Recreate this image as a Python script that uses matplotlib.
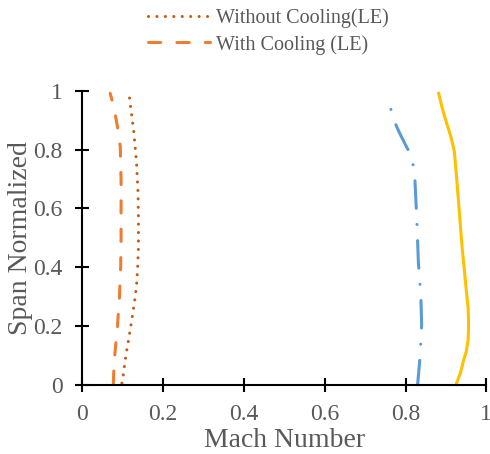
import matplotlib
matplotlib.use("Agg")
import matplotlib.pyplot as plt

plt.rcParams['font.family'] = ['Liberation Serif', 'DejaVu Serif']

# leading edge, without cooling (dotted)
span_le_nocool = [0.005, 0.03, 0.061, 0.10, 0.141, 0.19, 0.243, 0.29, 0.333, 0.40,
                  0.469, 0.56, 0.651, 0.76, 0.866, 0.93, 0.985]
mach_le_nocool = [0.098, 0.101, 0.104, 0.108, 0.113, 0.119, 0.125, 0.130, 0.134, 0.137,
                  0.139, 0.139, 0.138, 0.134, 0.127, 0.121, 0.116]

# leading edge, with cooling (dashed)
span_le_cool = [0.005, 0.05, 0.095, 0.14, 0.175, 0.24, 0.30, 0.401, 0.50, 0.583,
                0.696, 0.81, 0.87, 0.923, 0.96, 0.991]
mach_le_cool = [0.077, 0.078, 0.080, 0.083, 0.086, 0.089, 0.092, 0.095, 0.096, 0.096,
                0.096, 0.094, 0.088, 0.081, 0.075, 0.069]

# blue dash-dot series
span_blue = [0.0, 0.095, 0.152, 0.203, 0.30, 0.413, 0.56, 0.707, 0.764, 0.79, 0.813,
             0.86, 0.90, 0.93, 0.954]
mach_blue = [0.830, 0.836, 0.838, 0.840, 0.838, 0.832, 0.828, 0.823, 0.817, 0.810, 0.801,
             0.784, 0.771, 0.765, 0.761]

# yellow solid series
span_yellow = [0.0, 0.04, 0.084, 0.11, 0.152, 0.19, 0.22, 0.26, 0.30, 0.469, 0.696,
               0.793, 0.84, 0.889, 0.94, 0.991]
mach_yellow = [0.925, 0.936, 0.944, 0.950, 0.955, 0.956, 0.956, 0.955, 0.952, 0.940, 0.927,
               0.921, 0.913, 0.902, 0.891, 0.882]

legend_labels = ['Without Cooling(LE)', 'With Cooling (LE)']
ticks = [0, 0.2, 0.4, 0.6, 0.8, 1]
tick_labels = ['0', '0.2', '0.4', '0.6', '0.8', '1']

grey = '#595959'
lw = 2.2

fig = plt.figure(figsize=(4.9, 4.54), dpi=100)
ax = fig.add_axes([82.3 / 490, 1 - 384.7 / 454, 404 / 490, 294 / 454])

l1, = ax.plot(mach_le_nocool, span_le_nocool, color='#C55A11', lw=lw,
              linestyle=(0, (0.01, 2.75)), dash_capstyle='round', clip_on=False)
l2, = ax.plot(mach_le_cool, span_le_cool, color='#ED7D31', lw=lw,
              linestyle=(0, (4, 5.3)), dash_capstyle='round', clip_on=False)
ax.plot(mach_blue, span_blue, color='#5B9BD5', lw=lw,
        linestyle=(1, (9, 5.3, 0.01, 5.3)), dash_capstyle='round', clip_on=False)
ax.plot(mach_yellow, span_yellow, color='#FFC000', lw=lw, clip_on=False)

ax.set_xlim(0, 1)
ax.set_ylim(0, 1)
ax.set_xticks(ticks)
ax.set_xticklabels(tick_labels)
ax.set_yticks(ticks)
ax.set_yticklabels(tick_labels)
for s in ['top', 'right']:
    ax.spines[s].set_visible(False)
for s in ['left', 'bottom']:
    ax.spines[s].set_linewidth(1.5)
ax.tick_params(direction='inout', length=10, width=1.5, pad=9,
               labelsize=17, labelcolor=grey)

ax.set_xlabel('Mach Number', fontsize=20, color=grey, labelpad=2)
ax.set_ylabel('Span Normalized', fontsize=20, color=grey)
ax.yaxis.set_label_coords(-0.122, 0.5)

fig.legend([l1, l2], legend_labels, loc='upper left',
           bbox_to_anchor=(148 / 490, 1 - 8 / 454), frameon=False,
           fontsize=14.5, labelcolor=grey, handlelength=3.1,
           handletextpad=0.3, borderpad=0, borderaxespad=0, labelspacing=0.35)

fig.savefig('out.png', dpi=100)
